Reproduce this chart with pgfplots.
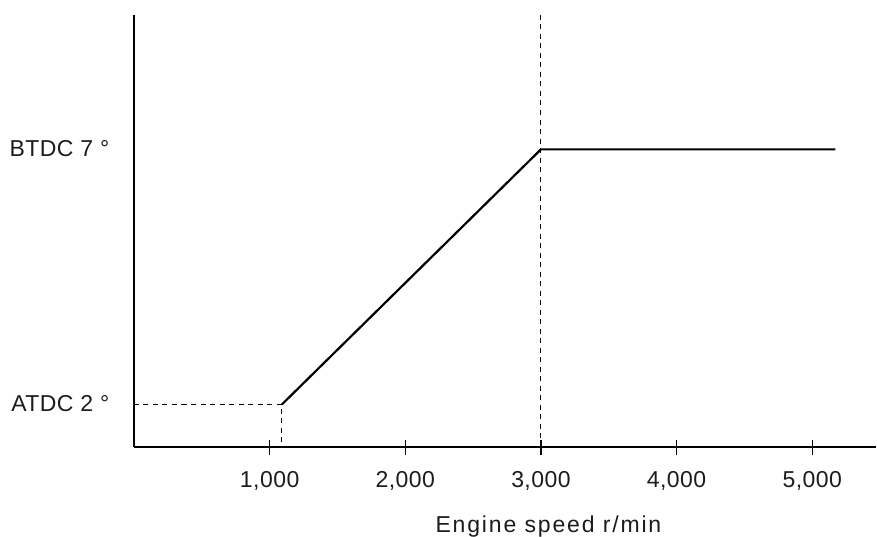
\documentclass[border=0pt]{standalone}
\usepackage{pgfplots}
\pgfplotsset{compat=1.18}
\usepackage{fontspec}
\setmainfont[LetterSpace=2]{Liberation Sans}
\newfontfamily\lblfont[LetterSpace=8]{Liberation Sans}
\definecolor{txt}{RGB}{30,27,28}
\begin{document}
\begin{tikzpicture}
\useasboundingbox (-134pt,-89pt) rectangle (743pt,447pt);
\begin{axis}[
  scale only axis, width=742pt, height=432pt,
  xmin=0, xmax=5470, ymin=-3.5, ymax=11.74,
  axis lines=left,
  axis line style={line width=1.8pt, -},
  xtick={1000,2000,3000,4000,5000},
  xticklabels={{1,000},{2,000},{3,000},{4,000},{5,000}},
  ytick={-2,7},
  yticklabels={ATDC 2 °, BTDC 7 °},
  tick align=center,
  major tick length=15pt,
  xtick style={line width=1.3pt, black},
  ytick style={draw=none},
  tick label style={font=\fontsize{23}{27}\selectfont, text=txt},
  xticklabel style={anchor=base, yshift=-33pt},
  yticklabel style={anchor=base east, inner sep=0pt, xshift=-17pt, yshift=-7pt},
  xlabel={Engine speed r/min},
  xlabel style={font=\lblfont\fontsize{23}{27}\selectfont, text=txt, at={(axis description cs:0.5585,0)}, anchor=base, yshift=-85pt},
  clip=false,
]
\addplot[black, line width=2.2pt] coordinates {(1090,-2) (3000,7) (5170,7)};
\addplot[black, line width=1pt, dash pattern=on 5pt off 4.5pt] coordinates {(0,-2) (1090,-2) (1090,-3.5)};
\addplot[black, line width=1pt, dash pattern=on 5pt off 4.5pt] coordinates {(3000,11.74) (3000,-3.5)};
\end{axis}
\end{tikzpicture}
\end{document}
